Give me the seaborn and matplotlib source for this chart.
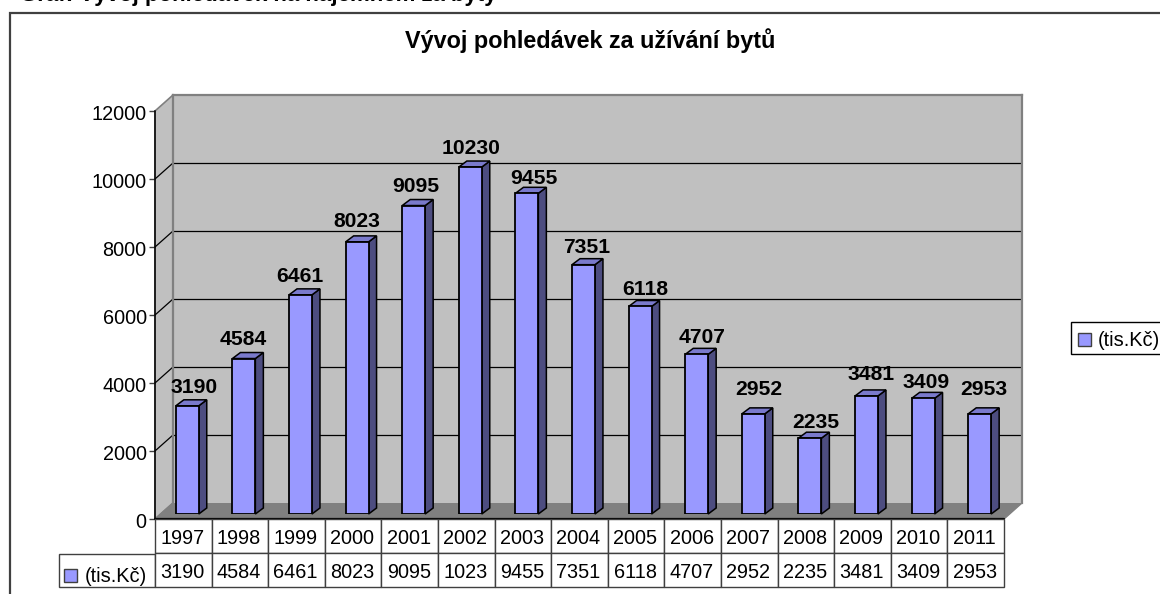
"""
Vyvoj pohledavek za uzivani bytu - 3D-look Excel column chart with data table
"""

import pandas as pd
import matplotlib
matplotlib.use("Agg")
import matplotlib.pyplot as plt
from matplotlib.patches import Polygon, Rectangle
from matplotlib.transforms import Affine2D, IdentityTransform
import seaborn as sns

# ── Data ──────────────────────────────────────
years = ['1997', '1998', '1999', '2000', '2001', '2002', '2003', '2004',
         '2005', '2006', '2007', '2008', '2009', '2010', '2011']
values = [3190, 4584, 6461, 8023, 9095, 10230, 9455, 7351,
          6118, 4707, 2952, 2235, 3481, 3409, 2953]
# the table in the source cuts 10230 down to 1023
table_values = ['3190', '4584', '6461', '8023', '9095', '1023', '9455', '7351',
                '6118', '4707', '2952', '2235', '3481', '3409', '2953']
y_ticks = [0, 2000, 4000, 6000, 8000, 10000, 12000]
series_name = '(tis.Kč)'
chart_title = 'Vývoj pohledávek za užívání bytů'
page_heading = 'Graf: Vývoj pohledávek na nájemném za byty'

# ── Config ────────────────────────────────────
W, H = 1160, 594
DPI = 100
BAR = '#9999FF'
BAR_SIDE = '#4D4D80'
BAR_TOP = '#7A7ACC'
WALL = '#C0C0C0'
FLOOR = '#808080'
DARK = '#404040'
DEPTH_X, DEPTH_Y = 8, 6        # bar depth, px
PLOT_X0, PLOT_X1 = 155, 1004   # front edge of the floor
PLOT_Y0, PLOT_Y1 = 519, 111    # front axis, 0 and 12000
BACK_DX, BACK_DY = 18, 16      # back wall offset
BAR_DX, BAR_DY = 4, 5          # bar plane offset
# excel nudges its 3d labels around a bit, px from the bar
LABEL_DX = [7, -1, -1, 0, 2, 1, 7, 3, 5, 5, 6, 6, 5, 3, 4]
LABEL_DY = [9, 10, 9, 11, 10, 9, 5, 8, 7, 7, 15, 6, 12, 6, 15]

sns.set_style("white")
plt.rcParams['font.family'] = ['Liberation Sans', 'DejaVu Sans']
plt.rcParams['text.color'] = 'black'
plt.rcParams['ytick.color'] = 'black'


def px_axes(fig, x0, x1, y_bottom, y_top, **kw):
    return fig.add_axes([x0 / W, 1 - y_bottom / H, (x1 - x0) / W, (y_bottom - y_top) / H], **kw)


def val_y(v):
    return PLOT_Y0 + (PLOT_Y1 - PLOT_Y0) * v / 12000


# ── Figure ────────────────────────────────────
fig = plt.figure(figsize=(W / DPI, H / DPI), dpi=DPI, facecolor='white')

bg = fig.add_axes([0, 0, 1, 1], zorder=0)
bg.set_xlim(0, W)
bg.set_ylim(H, 0)
bg.axis('off')

# outer frame, only top and left fall inside the crop
bg.plot([9.5, 9.5, W], [H, 13, 13], color=DARK, lw=1.6, solid_joinstyle='miter')
# the source image crops this heading, only its descenders show
bg.text(20, 0.5, page_heading, fontsize=16, fontweight='bold', ha='left', va='baseline')
bg.text(590, 41, chart_title, fontsize=16.8, fontweight='bold', ha='center', va='center')

# side wall and floor
bx0, bx1 = PLOT_X0 + BACK_DX, PLOT_X1 + BACK_DX
by0, by1 = PLOT_Y0 - BACK_DY, PLOT_Y1 - BACK_DY
bg.add_patch(Polygon([(PLOT_X0, PLOT_Y0), (PLOT_X0, PLOT_Y1), (bx0, by1), (bx0, by0)],
                     fc=WALL, ec=FLOOR, lw=1.2))
bg.add_patch(Polygon([(PLOT_X0, PLOT_Y0), (bx0, by0), (bx1, by0), (PLOT_X1, PLOT_Y0)],
                     fc=FLOOR, ec=FLOOR, lw=1))
for v in y_ticks[1:-1]:
    bg.plot([PLOT_X0, bx0], [val_y(v), val_y(v) - BACK_DY], color='black', lw=0.9)

# back wall
ax_wall = px_axes(fig, bx0, bx1, by0, by1, zorder=1)
ax_wall.set_facecolor(WALL)
ax_wall.set_xlim(0, 1)
ax_wall.set_ylim(0, 12000)
ax_wall.set_yticks(y_ticks[1:-1])
ax_wall.set_xticks([])
ax_wall.tick_params(left=False, labelleft=False)
ax_wall.grid(axis='y', color='black', lw=0.9)
for s in ax_wall.spines.values():
    s.set_color(FLOOR)
    s.set_linewidth(1.6)
ax_wall.spines['bottom'].set_visible(False)

# bars
df = pd.DataFrame({'year': years, 'value': values})
ax_bars = px_axes(fig, PLOT_X0 + BAR_DX, PLOT_X1 + BAR_DX, PLOT_Y0 - BAR_DY, PLOT_Y1 - BAR_DY + 1, zorder=2)
ax_bars.patch.set_alpha(0)
sns.barplot(data=df, x='year', y='value', color=BAR, saturation=1, width=0.405,
            edgecolor='black', linewidth=1.3, ax=ax_bars, zorder=3)
ax_bars.set_xlim(-0.5, 14.5)
ax_bars.set_ylim(0, 12000)
ax_bars.axis('off')

for i, (bar, val) in enumerate(zip(ax_bars.patches, values)):
    (x0, y0), (x1, y1) = ax_bars.transData.transform(
        [(bar.get_x(), 0), (bar.get_x() + bar.get_width(), val)])
    side = [(x1, y0), (x1 + DEPTH_X, y0 + DEPTH_Y), (x1 + DEPTH_X, y1 + DEPTH_Y), (x1, y1)]
    top = [(x0, y1), (x0 + DEPTH_X, y1 + DEPTH_Y), (x1 + DEPTH_X, y1 + DEPTH_Y), (x1, y1)]
    for pts, col in ((side, BAR_SIDE), (top, BAR_TOP)):
        ax_bars.add_patch(Polygon(pts, fc=col, ec='black', lw=1.1, zorder=2,
                                  transform=IdentityTransform(), clip_on=False))
    ax_bars.annotate(str(val), (bar.get_x() + bar.get_width() / 2, val),
                     xytext=(LABEL_DX[i], LABEL_DY[i]),
                     textcoords='offset pixels', ha='center', va='bottom',
                     fontsize=15.2, fontweight='bold', zorder=5, annotation_clip=False)

# front value axis
ax_front = px_axes(fig, PLOT_X0, PLOT_X1, PLOT_Y0, PLOT_Y1, zorder=3)
ax_front.patch.set_alpha(0)
ax_front.set_ylim(0, 12000)
ax_front.set_yticks(y_ticks)
ax_front.set_xticks([])
sns.despine(ax=ax_front, top=True, right=True, bottom=True)
ax_front.spines['left'].set_color('black')
ax_front.spines['left'].set_linewidth(1.1)
ax_front.tick_params(axis='y', left=True, length=4.5, width=1, color=DARK, labelsize=14.3, pad=1.5)
for lab in ax_front.get_yticklabels():
    lab.set_transform(lab.get_transform() + Affine2D().translate(0, -1.5))

# data table
ax_tab = px_axes(fig, PLOT_X0, PLOT_X1, 587, PLOT_Y0, zorder=4)
ax_tab.axis('off')
tab = ax_tab.table(cellText=[years, table_values], cellLoc='center', bbox=[0, 0, 1, 1])
tab.auto_set_font_size(False)
tab.set_fontsize(14.3)
for cell in tab.get_celld().values():
    cell.set_edgecolor(DARK)
    cell.set_linewidth(1)
    cell.set_facecolor('white')
    cell.PAD = 0.02
    # source text sits a little low and left in its cells
    cell.get_text().set_transform(Affine2D().translate(-1, -3))
bg.plot([PLOT_X0, PLOT_X1], [PLOT_Y0, PLOT_Y0], color='black', lw=1.6, zorder=5)

# table key cell
bg.add_patch(Rectangle((59, 554), 96, 33, fc='white', ec=DARK, lw=1))
bg.add_patch(Rectangle((64, 569), 13, 13, fc=BAR, ec=DARK, lw=1))
bg.text(85, 576.5, series_name, fontsize=14.4, ha='left', va='center')

# legend
bg.add_patch(Rectangle((1071, 322), 92, 32, fc='white', ec='black', lw=1))
bg.add_patch(Rectangle((1078, 333), 13, 13, fc=BAR, ec=DARK, lw=1))
bg.text(1098, 341, series_name, fontsize=14.4, ha='left', va='center')

fig.savefig('out.png', dpi=DPI)
